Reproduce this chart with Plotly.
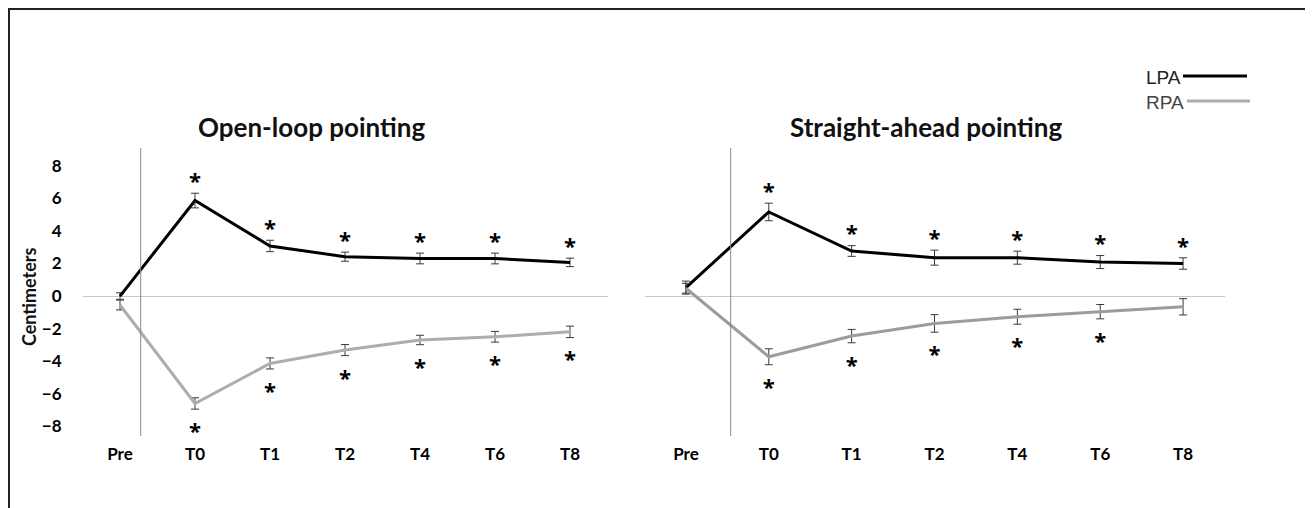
import plotly.graph_objects as go

# ---------------- data ----------------
categories = ["Pre", "T0", "T1", "T2", "T4", "T6", "T8"]

open_lpa = [0.0, 5.87, 3.08, 2.42, 2.31, 2.31, 2.07]
open_lpa_err = [0.2, 0.45, 0.35, 0.28, 0.33, 0.33, 0.26]
open_rpa = [-0.55, -6.6, -4.14, -3.32, -2.7, -2.5, -2.2]
open_rpa_err = [0.3, 0.35, 0.34, 0.34, 0.29, 0.33, 0.35]
open_lpa_sig = [0, 1, 1, 1, 1, 1, 1]
open_rpa_sig = [0, 1, 1, 1, 1, 1, 1]

sa_lpa = [0.52, 5.17, 2.77, 2.36, 2.36, 2.09, 2.0]
sa_lpa_err = [0.4, 0.54, 0.33, 0.46, 0.4, 0.4, 0.35]
sa_rpa = [0.48, -3.73, -2.46, -1.68, -1.27, -0.96, -0.66]
sa_rpa_err = [0.3, 0.49, 0.41, 0.54, 0.46, 0.44, 0.5]
sa_lpa_sig = [0, 1, 1, 1, 1, 1, 1]
sa_rpa_sig = [0, 1, 1, 1, 1, 1, 0]

panel_titles = ["Open-loop pointing", "Straight-ahead pointing"]
y_ticks = [-8, -6, -4, -2, 0, 2, 4, 6, 8]
y_title = "Centimeters"
series_names = ["LPA", "RPA"]

# ---------------- style ----------------
# the page body has an 8px margin, so the figure starts at (8, 8)
OX, OY = 8, 8
W, H = 1305, 500
LPA_COLOR = "#000000"
RPA_COLOR = "#adadad"
ERR_COLOR = "#3a3a3a"
FONT = "Lato"
STAR_UP = 0.6
STAR_DOWN = 1.5

xs = list(range(len(categories)))

fig = go.Figure()


def add_series(vals, errs, color, xa, ya):
    fig.add_trace(go.Scatter(
        x=xs, y=vals, mode="lines", xaxis=xa, yaxis=ya,
        line=dict(color=color, width=3),
        error_y=dict(type="data", array=errs, visible=True,
                     color=ERR_COLOR, thickness=1, width=4),
        showlegend=False, hoverinfo="skip"))


def add_stars(vals, errs, sig, up, xa, ya):
    sx, sy = [], []
    for i, (v, e, s) in enumerate(zip(vals, errs, sig)):
        if s:
            sx.append(xs[i])
            sy.append(v + e + STAR_UP if up else v - e - STAR_DOWN)
    fig.add_trace(go.Scatter(
        x=sx, y=sy, mode="text", text=["*"] * len(sx),
        textposition="middle center", xaxis=xa, yaxis=ya,
        textfont=dict(family="Open Sans", size=22, color="#000000",
                      weight="bold"),
        showlegend=False, hoverinfo="skip"))


add_series(open_lpa, open_lpa_err, LPA_COLOR, "x", "y")
add_series(open_rpa, open_rpa_err, RPA_COLOR, "x", "y")
add_stars(open_lpa, open_lpa_err, open_lpa_sig, True, "x", "y")
add_stars(open_rpa, open_rpa_err, open_rpa_sig, False, "x", "y")

add_series(sa_lpa, sa_lpa_err, LPA_COLOR, "x2", "y2")
add_series(sa_rpa, sa_rpa_err, "#9c9c9c", "x2", "y2")
add_stars(sa_lpa, sa_lpa_err, sa_lpa_sig, True, "x2", "y2")
add_stars(sa_rpa, sa_rpa_err, sa_rpa_sig, False, "x2", "y2")

px = lambda v: (v - OX) / W
py = lambda v: 1 - (v - OY) / H

y_dom = [py(436), py(148)]
y_rng = [-8.6, 9.1]

tick_font = dict(family=FONT, size=17, color="#000000", weight="bold")

xaxis_common = dict(
    range=[-0.5, len(categories) - 0.5], tickmode="array", tickvals=xs,
    ticktext=categories, showgrid=False, zeroline=False, showline=False,
    ticks="", tickfont=tick_font, ticklabelstandoff=6, fixedrange=True)

fig.update_layout(
    width=W, height=H,
    margin=dict(l=0, r=0, t=0, b=0),
    paper_bgcolor="white", plot_bgcolor="white",
    showlegend=False,
    xaxis=dict(xaxis_common, domain=[px(82.5), px(607.5)], anchor="y"),
    xaxis2=dict(xaxis_common, domain=[px(644.5), px(1224.5)], anchor="y2"),
    yaxis=dict(domain=y_dom, range=y_rng, tickvals=y_ticks,
               showgrid=False, showline=False, ticks="",
               zeroline=True, zerolinecolor="#c8c8c8", zerolinewidth=1,
               tickfont=tick_font, ticklabelstandoff=20, anchor="x"),
    yaxis2=dict(domain=y_dom, range=y_rng, showticklabels=False,
                showgrid=False, showline=False, ticks="",
                zeroline=True, zerolinecolor="#c8c8c8", zerolinewidth=1,
                anchor="x2"),
)

shapes = [
    # outer frame
    dict(type="rect", xref="paper", yref="paper",
         x0=px(9), x1=px(1307), y0=py(9), y1=-0.05,
         line=dict(color="#222222", width=2)),
    # vertical axis lines
    dict(type="line", xref="x", yref="y domain", x0=0.276, x1=0.276,
         y0=0, y1=1, line=dict(color="#8a8a8a", width=1)),
    dict(type="line", xref="x2", yref="y2 domain", x0=0.54, x1=0.54,
         y0=0, y1=1, line=dict(color="#8a8a8a", width=1)),
    # legend lines
    dict(type="line", xref="paper", yref="paper", x0=px(1183), x1=px(1247),
         y0=py(76), y1=py(76), line=dict(color=LPA_COLOR, width=3)),
    dict(type="line", xref="paper", yref="paper", x0=px(1187), x1=px(1250),
         y0=py(101), y1=py(101), line=dict(color=RPA_COLOR, width=3)),
]
fig.update_layout(shapes=shapes)

title_font = dict(family=FONT, size=26, color="#111111", weight="bold")
annotations = [
    dict(text=panel_titles[0], xref="paper", yref="paper",
         x=px(311), y=py(127), showarrow=False, xanchor="center",
         yanchor="middle", font=title_font),
    dict(text=panel_titles[1], xref="paper", yref="paper",
         x=px(926), y=py(127), showarrow=False, xanchor="center",
         yanchor="middle", font=title_font),
    dict(text=y_title, xref="paper", yref="paper",
         x=px(29), y=py(297), showarrow=False, textangle=-90,
         xanchor="center", yanchor="middle",
         font=dict(family=FONT, size=18, color="#111111", weight="bold")),
    dict(text=series_names[0], xref="paper", yref="paper",
         x=px(1183), y=py(77), showarrow=False, xanchor="right",
         yanchor="middle",
         font=dict(family="Liberation Sans", size=19, color="#222222")),
    dict(text=series_names[1], xref="paper", yref="paper",
         x=px(1186), y=py(103), showarrow=False, xanchor="right",
         yanchor="middle",
         font=dict(family="Liberation Sans", size=19, color="#444444")),
]
fig.update_layout(annotations=annotations)

fig.write_html("out.html", config={"displayModeBar": False})
